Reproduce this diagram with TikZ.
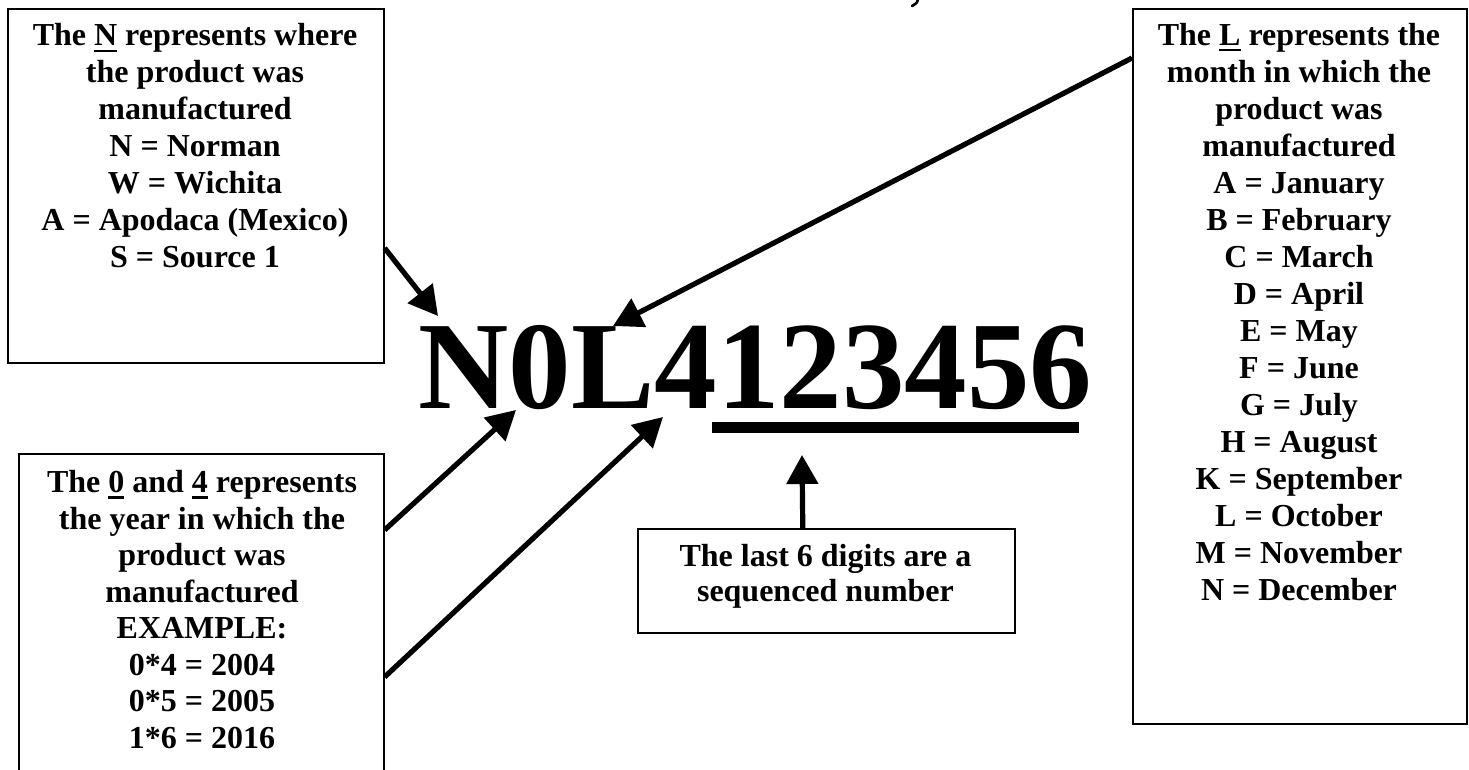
\documentclass[tikz,border=0pt]{standalone}
\usepackage{fontspec}
\setmainfont{Liberation Serif}
\usetikzlibrary{arrows.meta}
\newcommand\uln[1]{\setbox0\hbox{#1}\rlap{\rule[-3pt]{\wd0}{1.1pt}}\box0\relax}
\begin{document}
\begin{tikzpicture}[x=0.5pt,y=-0.5pt,
  box/.style={draw, line width=0.8pt, inner sep=0pt, anchor=north west},
  txt/.style={font=\fontsize{16pt}{18.5pt}\selectfont\bfseries, align=center, inner sep=0pt, anchor=base},
  arr/.style={line width=2.6pt, -{Triangle[length=14.5pt,width=15.5pt]}}]
\clip (0,0) rectangle (1469,770);
\fill[white] (0,0) rectangle (1469,770);
% boxes
\node[box, minimum width=188pt, minimum height=177pt] (nbox) at (7,8) {};
\node[box, minimum width=182.5pt, minimum height=170pt] (ybox) at (18,453) {};
\node[box, minimum width=167pt, minimum height=357.5pt] (lbox) at (1132,8) {};
\node[box, minimum width=188.5pt, minimum height=52pt] (sbox) at (637,528) {};
% texts (anchored at the baseline of the last line)
\node[txt] (ntext) at (195,268) {The \uln{N} represents where\\the product was\\manufactured\\N = Norman\\W = Wichita\\A = Apodaca (Mexico)\\S = Source 1};
\node[txt, font=\fontsize{16pt}{18.25pt}\selectfont\bfseries] (ytext) at (202,748) {The \uln{0} and \uln{4} represents\\the year in which the\\product was\\manufactured\\EXAMPLE:\\0*4 = 2004\\0*5 = 2005\\1*6 = 2016};
\node[txt] (ltext) at (1299,600) {The \uln{L} represents the\\month in which the\\product was\\manufactured\\A = January\\B = February\\C = March\\D = April\\E = May\\F = June\\G = July\\H = August\\K = September\\L = October\\M = November\\N = December};
\node[txt, font=\fontsize{16pt}{17.5pt}\selectfont\bfseries] (stext) at (825.5,602) {The last 6 digits are a\\sequenced number};
% big code
\node[anchor=base west, inner sep=0pt, font=\fontsize{62.5pt}{70pt}\selectfont\bfseries] (code) at (418,409) {N0L4123456};
\fill (712,422) rectangle (1079,433);
% target points
\coordinate (tipN) at (438,316);
\coordinate (tipL) at (613,326);
\coordinate (tip0) at (516,410);
\coordinate (tip4) at (663,417);
\coordinate (tipS) at (802,455);
% arrows
\draw[arr] ([yshift=-120pt]nbox.north east) -- (tipN);
\draw[arr] ([yshift=-25pt]lbox.north west) -- (tipL);
\draw[arr] ([yshift=-38.5pt]ybox.north east) -- (tip0);
\draw[arr] ([yshift=-112pt]ybox.north east) -- (tip4);
\draw[arr] ([xshift=-11.75pt]sbox.north) -- (tipS);
% stray stroke at top
\draw[line width=1.3pt, line cap=round] (918,-1) .. controls (917,3) .. (912,6);
\end{tikzpicture}
\end{document}
